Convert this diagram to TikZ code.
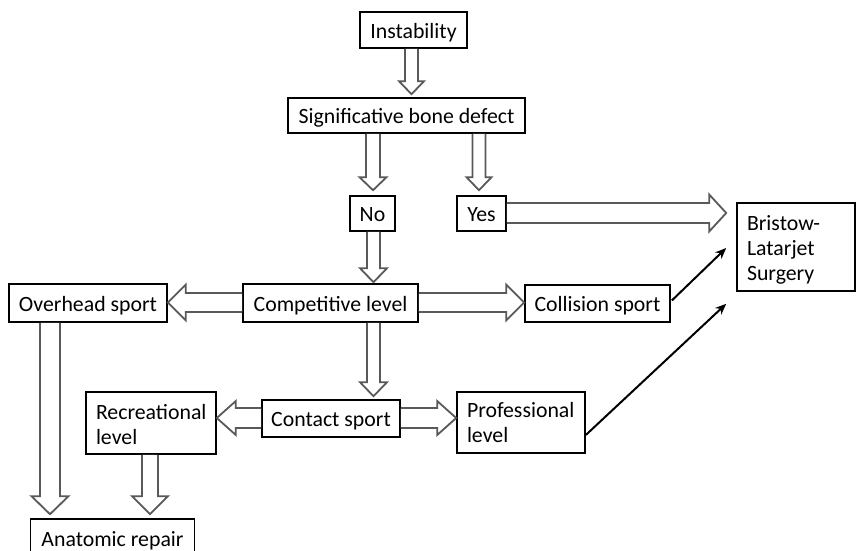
\documentclass[tikz,border=0pt]{standalone}
\usepackage{fontspec}
\setmainfont{Carlito}
\usetikzlibrary{calc,arrows.meta}
\tikzset{
  box/.style={draw=black, line width=1.6pt, fill=white, inner sep=0pt,
    font=\fontsize{21.8}{25}\selectfont},
  onebox/.style={box, text height=16pt, text depth=0pt},
  multibox/.style={box, align=left},
  barrow/.style={draw=black!65, line width=1.8pt, line join=miter},
  barrowfill/.style={fill=white},
  thinarrow/.style={draw=black, line width=2pt, -{Stealth[length=11pt,width=9pt]}}
}
\newcommand{\blockarrow}[5]{%
  \coordinate (BAa) at #1;
  \coordinate (BAb) at #2;
  \coordinate (BAh) at ($(BAb)!#5!(BAa)$);
  \path[barrowfill] ($(BAa)!#3!90:(BAb)$) -- ($(BAh)!#3!-90:(BAa)$) -- ($(BAh)!#4!-90:(BAa)$) -- (BAb)
     -- ($(BAh)!#4!90:(BAa)$) -- ($(BAh)!#3!90:(BAa)$) -- ($(BAa)!#3!-90:(BAb)$) -- cycle;
  \draw[barrow] ($(BAa)!#3!90:(BAb)$) -- ($(BAh)!#3!-90:(BAa)$) -- ($(BAh)!#4!-90:(BAa)$) -- (BAb)
     -- ($(BAh)!#4!90:(BAa)$) -- ($(BAh)!#3!90:(BAa)$) -- ($(BAa)!#3!-90:(BAb)$);
}
\begin{document}
\begin{tikzpicture}[x=1pt, y=-1pt]
\useasboundingbox (0,0) rectangle (856,551);
\clip (0,0) rectangle (856,551);
\fill[white] (0,0) rectangle (856,551);

\node[onebox, minimum width=107pt, minimum height=36pt] (inst) at (413.5,30) {Instability};
\node[onebox, minimum width=237pt, minimum height=35pt] (sig) at (406.5,115.5) {Significative bone defect};
\node[onebox, minimum width=45pt, minimum height=35pt] (no) at (372.5,213.5) {No};
\node[onebox, minimum width=49pt, minimum height=35pt] (yes) at (481.5,213.5) {Yes};
\node[multibox, minimum width=118pt, minimum height=88pt, text width=98pt] (bl) at (796,247) {\rule{0pt}{21.5pt}Bristow-\\Latarjet\\Surgery};
\node[onebox, minimum width=158pt, minimum height=38pt] (over) at (88,303) {Overhead sport};
\node[onebox, minimum width=175pt, minimum height=38pt] (comp) at (330.5,303) {Competitive level};
\node[onebox, minimum width=145pt, minimum height=37pt] (coll) at (597.5,303.5) {Collision sport};
\node[onebox, minimum width=138pt, minimum height=37pt] (cont) at (331,418.5) {Contact sport};
\node[multibox, minimum width=130pt, minimum height=62pt, text width=110pt] (rec) at (151,423) {\rule{0pt}{18pt}Recreational\\level};
\node[multibox, minimum width=128pt, minimum height=61pt, text width=108pt] (prof) at (521,422.5) {Professional\\level};
\node[onebox, minimum width=164pt, minimum height=38pt] (anat) at (112.5,538) {Anatomic repair};

\blockarrow{(411.5,0 |- inst.south)}{($(411.5,0 |- sig.north)+(0,-3)$)}{6.5pt}{12.5pt}{13pt}
\blockarrow{(373,0 |- sig.south)}{($(373,0 |- no.north)+(0,-5)$)}{7pt}{13.5pt}{13pt}
\blockarrow{(479,0 |- sig.south)}{($(479,0 |- yes.north)+(0,-5)$)}{6.5pt}{12.5pt}{13pt}
\blockarrow{(0,213 -| yes.east)}{($(0,213 -| bl.west)+(-10,0)$)}{10pt}{18.5pt}{17pt}
\blockarrow{(373.5,0 |- no.south)}{($(373.5,0 |- comp.north)+(0,-1)$)}{6.5pt}{13.5pt}{14pt}
\blockarrow{(0,302.5 -| comp.west)}{(0,302.5 -| over.east)}{9.5pt}{18pt}{18pt}
\blockarrow{(0,302.5 -| comp.east)}{(0,302.5 -| coll.west)}{9.5pt}{18pt}{18pt}
\blockarrow{(373.5,0 |- comp.south)}{($(373.5,0 |- cont.north)+(0,-3)$)}{6.5pt}{13.5pt}{14pt}
\blockarrow{(0,418 -| cont.west)}{(0,418 -| rec.east)}{10pt}{17pt}{19pt}
\blockarrow{(0,418 -| cont.east)}{(0,418 -| prof.west)}{10pt}{17pt}{19pt}
\blockarrow{(50,0 |- over.south)}{($(50,0 |- anat.north)+(0,-4)$)}{10pt}{18.5pt}{18pt}
\blockarrow{(150,0 |- rec.south)}{($(150,0 |- anat.north)+(0,-4)$)}{8pt}{18pt}{18pt}

\draw[thinarrow] ($(coll.east)+(1,-3)$) -- ($(bl.west)+(-10,1)$);
\draw[thinarrow] ($(prof.east)+(0,12.5)$) -- ($(bl.south west)+(-10,12)$);
\end{tikzpicture}
\end{document}
